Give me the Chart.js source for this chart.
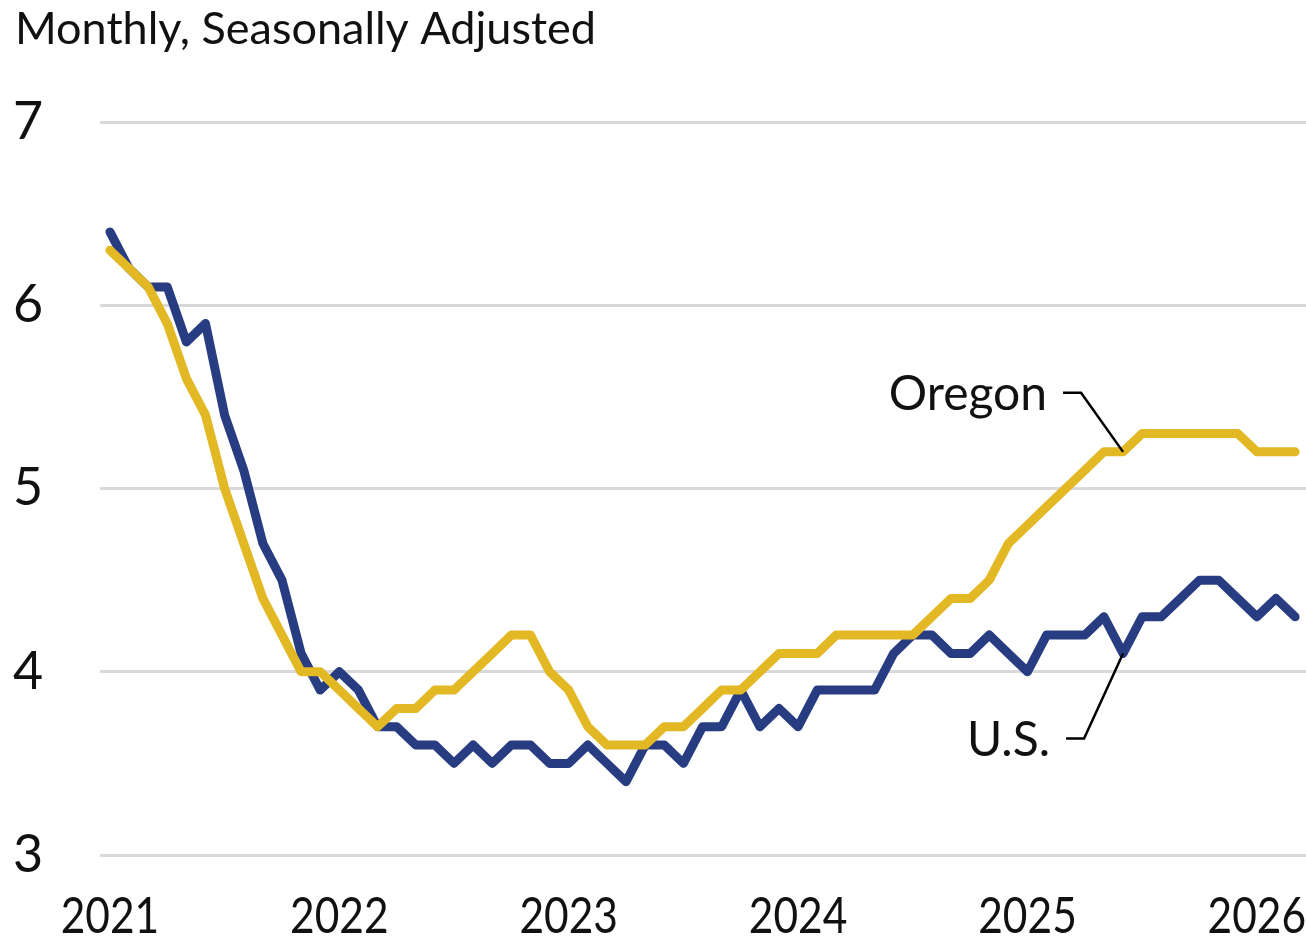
<!DOCTYPE html>
<html>
<head>
<meta charset="utf-8">
<title>Unemployment Rate, Oregon and U.S.</title>
<script src="https://cdn.jsdelivr.net/npm/chart.js@4.4.1/dist/chart.umd.min.js"></script>
<style>
  html, body { margin: 0; padding: 0; background: #fff; }
  canvas { display: block; }
</style>
</head>
<body>
<canvas id="myChart" width="1306" height="939"></canvas>
<script>
var subtitle = 'Monthly, Seasonally Adjusted';
var yearLabels = ['2021', '2022', '2023', '2024', '2025', '2026'];
var yTicks = [3, 4, 5, 6, 7];

// Jan 2021 .. Mar 2026, one value per month
var usRate = [
    6.4, 6.2, 6.1, 6.1, 5.8, 5.9, 5.4, 5.1, 4.7, 4.5, 4.1, 3.9,
    4.0, 3.9, 3.7, 3.7, 3.6, 3.6, 3.5, 3.6, 3.5, 3.6, 3.6, 3.5,
    3.5, 3.6, 3.5, 3.4, 3.6, 3.6, 3.5, 3.7, 3.7, 3.9, 3.7, 3.8,
    3.7, 3.9, 3.9, 3.9, 3.9, 4.1, 4.2, 4.2, 4.1, 4.1, 4.2, 4.1,
    4.0, 4.2, 4.2, 4.2, 4.3, 4.1, 4.3, 4.3, 4.4, 4.5, 4.5, 4.4,
    4.3, 4.4, 4.3
];
var oregonRate = [
    6.3, 6.2, 6.1, 5.9, 5.6, 5.4, 5.0, 4.7, 4.4, 4.2, 4.0, 4.0,
    3.9, 3.8, 3.7, 3.8, 3.8, 3.9, 3.9, 4.0, 4.1, 4.2, 4.2, 4.0,
    3.9, 3.7, 3.6, 3.6, 3.6, 3.7, 3.7, 3.8, 3.9, 3.9, 4.0, 4.1,
    4.1, 4.1, 4.2, 4.2, 4.2, 4.2, 4.2, 4.3, 4.4, 4.4, 4.5, 4.7,
    4.8, 4.9, 5.0, 5.1, 5.2, 5.2, 5.3, 5.3, 5.3, 5.3, 5.3, 5.3,
    5.2, 5.2, 5.2
];

var seriesNames = ['Oregon', 'U.S.'];
var seriesColors = ['#e2b824', '#283c82'];

function toPoints(arr) {
    return arr.map(function (v, i) { return { x: i, y: v }; });
}

// callouts: label, dataset index, month index, elbow offset from the point
var callouts = [
    { text: 'Oregon', dataset: 0, month: 53, dx: -42, dy: -59 },
    { text: 'U.S.', dataset: 1, month: 53, dx: -39, dy: 85 }
];

var textPlugin = {
    id: 'texts',
    afterDraw: function (chart) {
        var ctx = chart.ctx;
        var xs = chart.scales.x;
        var ys = chart.scales.y;
        ctx.save();
        ctx.fillStyle = '#111';
        ctx.textBaseline = 'middle';

        ctx.font = '45px Lato';
        ctx.textAlign = 'left';
        ctx.fillText(subtitle, 15, 29);

        ctx.font = '52px Lato';
        ctx.textAlign = 'center';
        yTicks.forEach(function (v) {
            ctx.fillText(String(v), 28, ys.getPixelForValue(v));
        });

        ctx.font = '50px Lato';
        yearLabels.forEach(function (lab, k) {
            ctx.save();
            ctx.translate(xs.getPixelForValue(k * 12), 917);
            ctx.scale(0.85, 1);
            ctx.fillText(lab, 0, 0);
            ctx.restore();
        });

        ctx.font = '48px Lato';
        ctx.textAlign = 'right';
        ctx.strokeStyle = '#000';
        ctx.lineWidth = 2.5;
        callouts.forEach(function (c) {
            var ds = chart.data.datasets[c.dataset];
            var px = xs.getPixelForValue(c.month);
            var py = ys.getPixelForValue(ds.data[c.month].y);
            var ex = px + c.dx, ey = py + c.dy;
            ctx.beginPath();
            ctx.moveTo(px, py);
            ctx.lineTo(ex, ey);
            ctx.lineTo(ex - 18, ey);
            ctx.stroke();
            ctx.fillText(c.text, ex - 34, ey + 2);
        });
        ctx.restore();
    }
};

new Chart('myChart', {
    type: 'line',
    data: {
        datasets: [
            {
                label: seriesNames[0],
                data: toPoints(oregonRate),
                borderColor: seriesColors[0],
                order: 0
            },
            {
                label: seriesNames[1],
                data: toPoints(usRate),
                borderColor: seriesColors[1],
                order: 1
            }
        ]
    },
    options: {
        responsive: false,
        animation: false,
        layout: { padding: { left: 100, top: 122, right: 0, bottom: 76 } },
        elements: {
            line: { borderWidth: 9, tension: 0, borderCapStyle: 'round', borderJoinStyle: 'round' },
            point: { radius: 0 }
        },
        plugins: {
            legend: { display: false },
            tooltip: { enabled: false }
        },
        scales: {
            x: {
                type: 'linear',
                min: -0.52,
                max: 62.57,
                grid: { display: false },
                border: { display: false },
                ticks: { display: false }
            },
            y: {
                min: 3,
                max: 7,
                ticks: { display: false, stepSize: 1 },
                grid: { color: '#d9d9d9', lineWidth: 3, drawTicks: false },
                border: { display: false }
            }
        }
    },
    plugins: [textPlugin]
});
</script>
</body>
</html>
